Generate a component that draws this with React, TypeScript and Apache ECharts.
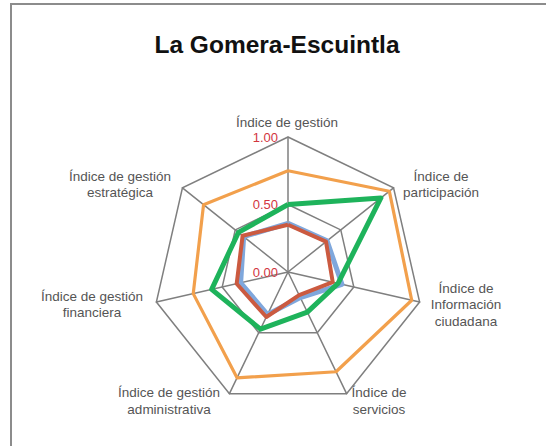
import React, { useEffect, useRef } from "react";
import * as echarts from "echarts";

const title = "La Gomera-Escuintla";
// Categories in clockwise order starting at the top
const categories = [
  "Índice de gestión",
  "Índice de\nparticipación",
  "Índice de\nInformación\nciudadana",
  "Índice de\nservicios",
  "Índice de gestión\nadministrativa",
  "Índice de gestión\nfinanciera",
  "Índice de gestión\nestratégica",
];
const orangeValues = [0.75, 0.96, 0.94, 0.82, 0.87, 0.72, 0.8];
const blueValues = [0.36, 0.37, 0.41, 0.21, 0.35, 0.36, 0.42];
const redValues = [0.35, 0.36, 0.34, 0.19, 0.37, 0.39, 0.43];
const greenValues = [0.5, 0.88, 0.38, 0.33, 0.47, 0.58, 0.47];
const axisMin = 0;
const axisMax = 1;
const splitCount = 2;

// label anchor positions (centre of each name block)
const namePositions: [number, number][] = [
  [287, 122],
  [441, 184.5],
  [466, 304.5],
  [379, 401],
  [169, 401],
  [92, 304.5],
  [120, 184.5],
];

// ECharts places indicators counter-clockwise: reorder clockwise data
const toCCW = <T,>(arr: T[]): T[] => [arr[0], ...arr.slice(1).reverse()];

export default function App() {
  const ref = useRef<HTMLDivElement>(null);
  useEffect(() => {
    document.body.style.margin = "0";
    if (!ref.current) return;
    const chart = echarts.init(ref.current, undefined, { renderer: "svg" });
    const ccwNames = toCCW(categories);
    const indicator = ccwNames.map((n, i) => ({
      name: n,
      min: axisMin,
      max: axisMax,
      ...(i === 0
        ? {
            axisLabel: {
              show: true,
              color: "#D2353E",
              fontSize: 13,
              fontFamily: "Liberation Sans",
              margin: 10,
              formatter: (v: number) => v.toFixed(2),
            },
          }
        : {}),
    }));
    const mk = (vals: number[], color: string, width: number, opacity = 1) => ({
      type: "radar",
      symbol: "none",
      silent: true,
      lineStyle: { color, width, opacity },
      itemStyle: { color },
      data: [{ value: toCCW(vals) }],
    });
    chart.setOption({
      animation: false,
      title: {
        text: title,
        left: 272,
        top: 27,
        textAlign: "center",
        textStyle: {
          fontFamily: "Liberation Sans",
          fontWeight: "bold",
          fontSize: 24.5,
          color: "#111",
        },
      },
      radar: {
        center: [288, 272],
        radius: 135,
        startAngle: 90,
        splitNumber: splitCount,
        shape: "polygon",
        indicator,
        axisName: { show: false },
        axisLabel: { show: false },
        axisTick: { show: false },
        axisLine: { lineStyle: { color: "#7f7f7f", width: 1.5 } },
        splitLine: { lineStyle: { color: "#7f7f7f", width: 1.5 } },
        splitArea: { show: false },
      },
      series: [
        mk(orangeValues, "#F2A04C", 3.2),
        mk(blueValues, "#7FA7DC", 5),
        mk(redValues, "#CB5A40", 4),
        mk(greenValues, "#1EB35B", 5),
      ],
      graphic: [
        {
          type: "polyline",
          silent: true,
          shape: { points: [[11, 446], [11, 4], [546, 4]] },
          style: { stroke: "#8c8c8c", lineWidth: 2, fill: "none" },
        },
        ...categories.map((c, i) => ({
          type: "text",
          silent: true,
          x: namePositions[i][0],
          y: namePositions[i][1],
          style: {
            text: c,
            align: "center",
            verticalAlign: "middle",
            fontFamily: "Liberation Sans",
            fontSize: 13.5,
            lineHeight: 16.5,
            fill: "#555",
          },
        })),
      ],
    });
    return () => chart.dispose();
  }, []);
  return <div ref={ref} style={{ width: 546, height: 446 }} />;
}
